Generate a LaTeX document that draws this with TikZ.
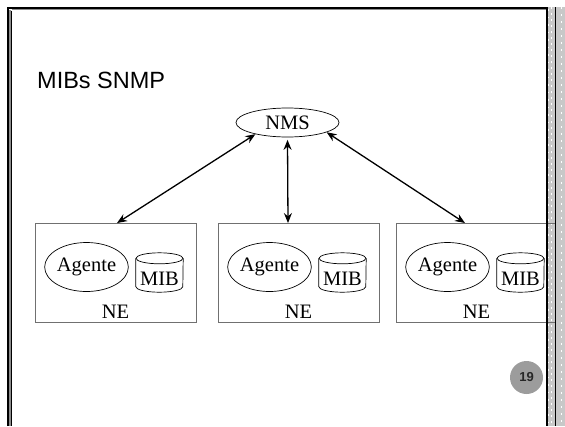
\documentclass[tikz,border=0pt]{standalone}
\usepackage{fontspec}
\setmainfont{Liberation Serif}
\setsansfont{Liberation Sans}
\usetikzlibrary{arrows.meta,calc,shapes.geometric}
\definecolor{stripgray}{HTML}{C8C8C8}
\definecolor{boxgray}{HTML}{707070}
\definecolor{badge}{HTML}{9C9C9C}
\tikzset{
  nebox/.style={draw=boxgray, line width=0.9pt, minimum width=161pt, minimum height=99pt, inner sep=0pt},
  agent/.style={ellipse, draw, line width=0.7pt, minimum width=81pt, minimum height=49pt, inner sep=0pt, font=\fontsize{20.5}{20.5}\selectfont},
  nmsnode/.style={ellipse, draw, line width=0.7pt, minimum width=103pt, minimum height=29pt, inner sep=0pt, font=\fontsize{20.5}{20.5}\selectfont},
  mibbox/.style={minimum width=47pt, minimum height=39pt, inner sep=0pt},
  cyl/.style={line width=0.7pt},
  lbl/.style={font=\fontsize{20.5}{20.5}\selectfont, inner sep=0pt, anchor=base},
  link/.style={line width=1.3pt, {Stealth[length=10pt,width=8pt]}-{Stealth[length=10pt,width=8pt]}},
}
\begin{document}
\begin{tikzpicture}[x=1pt,y=-1pt]
\useasboundingbox (0,0) rectangle (565,426);
% right strip (background)
\fill[stripgray] (548,7) rectangle (565,426);
\draw[white, line width=1pt, dash pattern=on 2pt off 4pt] (551.5,7) -- (551.5,426);
% slide frame
\draw[black, line width=2pt] (7.8,426) -- (7.8,8) -- (548,8);
\draw[black!45, line width=1.3pt] (12,9.8) -- (547,9.8);
\draw[black!45, line width=2pt] (10,10) -- (10,426);
\draw[black, line width=1.2pt] (11.8,10.5) -- (11.8,426);
% title
\node[font=\sffamily\fontsize{23.5}{23.5}\selectfont, anchor=base west, inner sep=0pt] (title) at (37,88) {MIBs SNMP};
% NMS
\node[nmsnode] (nms) at (287.5,122.5) {NMS};
% NE boxes
\foreach \i/\cx in {1/115.5, 2/298.5, 3/476.5} {
  \node[nebox] (box\i) at (\cx,273) {};
  \node[agent] (ag\i) at ($(box\i.center)+(-29,-6)$) {Agente};
  \node[mibbox] (mib\i) at ($(box\i.center)+(44,-0.5)$) {};
  \draw[cyl] ([yshift=-5.5pt]mib\i.north west) -- ([yshift=5.5pt]mib\i.south west)
     arc[start angle=180, end angle=360, x radius=23.5pt, y radius=5.5pt]
     -- ([yshift=-5.5pt]mib\i.north east);
  \draw[cyl] ([yshift=-5.5pt]mib\i.north) ellipse[x radius=23.5pt, y radius=5.5pt];
  \node[lbl] (mibt\i) at ([yshift=7pt]mib\i.south) {MIB};
  \node[lbl] (ne\i) at ([yshift=4pt]box\i.south) {NE};
}
% connectors
\coordinate (t1) at ($(box1.north)+(1.5,0)$);
\coordinate (t2) at ($(box2.north)+(-10.5,0)$);
\coordinate (t3) at ($(box3.north)+(-11.5,0)$);
\draw[link] (nms.200) -- (t1);
\draw[link] ([yshift=-2.5pt]nms.south) -- (t2);
\draw[link] (nms.-14) -- (t3);
% right strip (foreground part)
\fill[stripgray] (556,7) rectangle (565,426);
\draw[white, line width=1pt, dash pattern=on 2pt off 5pt] (561,7) -- (561,426);
\draw[black, line width=0.8pt] (555.5,7) -- (555.5,426);
% dashed right edge of slide
\draw[black, line width=2.6pt] (547,7) -- (547,426);
\draw[white, line width=0.9pt, dash pattern=on 1.5pt off 6pt] (548,9) -- (548,426);
% page badge
\node[circle, fill=badge, minimum size=33pt, inner sep=0pt, font=\sffamily\bfseries\fontsize{13}{13}\selectfont, text=black!85] (badge) at (526.5,377.5) {19};
\end{tikzpicture}
\end{document}
